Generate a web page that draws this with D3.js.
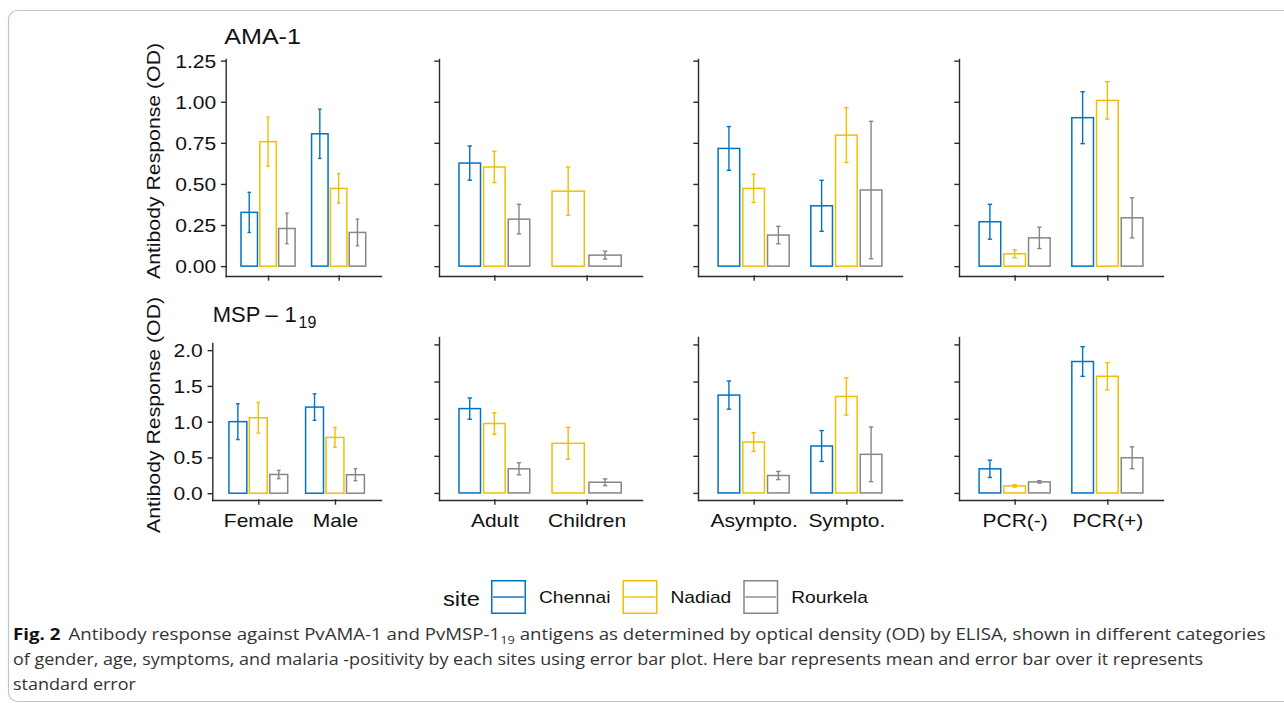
<!DOCTYPE html>
<html>
<head>
<meta charset="utf-8">
<script src="https://cdn.jsdelivr.net/npm/d3@7"></script>
<style>
  body { margin: 0; background: #fff; }
  svg { display: block; font-family: "Liberation Sans", Arial, sans-serif; }
</style>
</head>
<body>
<svg id="chart" width="1284" height="703"></svg>
<script>
'use strict';

var sites = ['Chennai', 'Nadiad', 'Rourkela']
,   siteColors = ['#0073C2', '#EFC000', '#868686']
,   panelCategories = [['Female', 'Male'], ['Adult', 'Children'], ['Asympto.', 'Sympto.'], ['PCR(-)', 'PCR(+)']]
,   amaTicks = [0, 0.25, 0.5, 0.75, 1, 1.25]
,   mspTicks = [0, 0.5, 1, 1.5, 2]

// [panel][category][site] : Chennai, Nadiad, Rourkela (null = no data)
var amaMean = [
  [[0.327, 0.757, 0.229], [0.805, 0.473, 0.205]],
  [[0.627, 0.603, 0.286], [null, 0.456, 0.067]],
  [[0.716, 0.473, 0.189], [0.367, 0.797, 0.463]],
  [[0.270, 0.075, 0.172], [0.903, 1.008, 0.294]]
]
var amaSE = [
  [[0.122, 0.150, 0.093], [0.150, 0.090, 0.081]],
  [[0.104, 0.095, 0.090], [null, 0.147, 0.024]],
  [[0.133, 0.086, 0.053], [0.155, 0.167, 0.418]],
  [[0.106, 0.024, 0.065], [0.158, 0.114, 0.122]]
]
var mspMean = [
  [[1.000, 1.055, 0.262], [1.204, 0.780, 0.258]],
  [[1.136, 0.935, 0.325], [null, 0.668, 0.144]],
  [[1.318, 0.686, 0.235], [0.632, 1.300, 0.520]],
  [[0.325, 0.095, 0.149], [1.770, 1.571, 0.474]]
]
var mspSE = [
  [[0.250, 0.214, 0.058], [0.185, 0.139, 0.084]],
  [[0.143, 0.145, 0.081], [null, 0.215, 0.045]],
  [[0.190, 0.127, 0.055], [0.208, 0.251, 0.368]],
  [[0.117, 0.016, 0.016], [0.200, 0.183, 0.147]]
]

var captionLines = [
  'of gender, age, symptoms, and malaria -positivity by each sites using error bar plot. Here bar represents mean and error bar over it represents',
  'standard error'
]

var STRETCH = 1.2   // axis fonts render wider than Arial in the original

var rows = [
  { mean: amaMean, se: amaSE, ticks: amaTicks, fmt: d3.format('.2f'), domain: [-0.06, 1.26],
    titleY: 161, labels: false,
    panels: [
      { x0: 225.7, x1: 381, y0: 276, y1: 59 },
      { x0: 439, x1: 642, y0: 276, y1: 59 },
      { x0: 698, x1: 902, y0: 276, y1: 59 },
      { x0: 959, x1: 1163, y0: 276, y1: 59 }
    ] },
  { mean: mspMean, se: mspSE, ticks: mspTicks, fmt: d3.format('.1f'), domain: [-0.095, 2.1],
    titleY: 415, labels: true,
    panels: [
      { x0: 212.3, x1: 381, y0: 500, y1: 343 },
      { x0: 439, x1: 642, y0: 500, y1: 337 },
      { x0: 698, x1: 902, y0: 500, y1: 337 },
      { x0: 959, x1: 1163, y0: 500, y1: 337 }
    ] }
]

var svg = d3.select('#chart')

// figure frame
svg.append('rect')
  .attr('x', 8.5).attr('y', 10.5)
  .attr('width', 1300).attr('height', 691)
  .attr('rx', 9)
  .attr('fill', 'none')
  .attr('stroke', '#c4c4c4')
  .attr('stroke-width', 1.2)

rows.forEach(function(row, ri) {
  row.panels.forEach(function(p, pi) {
    var cats = panelCategories[pi]
    ,   x = d3.scalePoint().domain(cats).range([p.x0, p.x1]).padding(0.6)
    ,   y = d3.scaleLinear().domain(row.domain).range([p.y0, p.y1])
    ,   step = x.step()
    ,   g = svg.append('g').attr('class', 'panel')
    ,   bars = []

    cats.forEach(function(cat, ci) {
      var present = sites.map((s, si) => si).filter((si) => row.mean[pi][ci][si] != null)
      ,   slot = 0.8 * step / present.length
      present.forEach(function(si, k) {
        bars.push({
          site: si
        , mean: row.mean[pi][ci][si]
        , se: row.se[pi][ci][si]
        , cx: x(cat) - 0.4 * step + slot * (k + 0.5)
        , w: slot * 0.875
        })
      })
    })

    g.selectAll('rect.bar').data(bars).enter().append('rect')
      .attr('class', 'bar')
      .attr('x', (d) => d.cx - d.w / 2)
      .attr('y', (d) => y(d.mean))
      .attr('width', (d) => d.w)
      .attr('height', (d) => y(0) - y(d.mean))
      .attr('fill', '#fff')
      .attr('stroke', (d) => siteColors[d.site])
      .attr('stroke-width', 1.5)

    var cap = 0.024 * step
    ,   eb = g.selectAll('g.err').data(bars).enter().append('g')
      .attr('class', 'err')
      .attr('stroke', (d) => siteColors[d.site])
      .attr('stroke-width', 1.4)

    eb.append('line')
      .attr('x1', (d) => d.cx).attr('x2', (d) => d.cx)
      .attr('y1', (d) => y(d.mean - d.se)).attr('y2', (d) => y(d.mean + d.se))
    eb.append('line')
      .attr('x1', (d) => d.cx - cap).attr('x2', (d) => d.cx + cap)
      .attr('y1', (d) => y(d.mean + d.se)).attr('y2', (d) => y(d.mean + d.se))
    eb.append('line')
      .attr('x1', (d) => d.cx - cap).attr('x2', (d) => d.cx + cap)
      .attr('y1', (d) => y(d.mean - d.se)).attr('y2', (d) => y(d.mean - d.se))

    // axes
    var yAxis = g.append('g')
      .attr('transform', 'translate(' + p.x0 + ',0)')
      .call(d3.axisLeft(y).tickValues(row.ticks).tickSize(4).tickSizeOuter(0)
        .tickPadding(5.5).tickFormat(pi === 0 ? row.fmt : () => ''))

    var xAxis = g.append('g')
      .attr('transform', 'translate(0,' + p.y0 + ')')
      .call(d3.axisBottom(x).tickSize(4).tickSizeOuter(0).tickPadding(11)
        .tickFormat(row.labels ? null : () => ''))

    ;[yAxis, xAxis].forEach(function(ax) {
      ax.attr('font-family', null).attr('font-size', null)
      ax.selectAll('path.domain, .tick line')
        .attr('stroke', '#2b2b2b')
        .attr('stroke-width', 1.4)
        .attr('stroke-linecap', 'square')
      ax.selectAll('.tick text').attr('fill', '#111')
    })

    yAxis.selectAll('.tick text')
      .attr('font-size', 18)
      .attr('transform', 'translate(-9.5,0) scale(1.17,1)')
      .attr('x', 0)
      .attr('dy', '0.36em')

    xAxis.selectAll('.tick text')
      .attr('font-size', 17.5)
      .attr('transform', 'translate(0,' + 15 + ') scale(' + STRETCH + ',1)')
      .attr('y', 0)
      .attr('dy', '0.71em')
  })

  // y axis title
  svg.append('text')
    .attr('transform', 'translate(159.5,' + row.titleY + ') rotate(-90) scale(' + STRETCH + ',1)')
    .attr('text-anchor', 'middle')
    .attr('font-size', 17.7)
    .attr('fill', '#111')
    .text('Antibody Response (OD)')
})

// row titles
svg.append('text')
  .attr('transform', 'translate(224.3,44.3) scale(1.14,1)')
  .attr('font-size', 22)
  .attr('fill', '#111')
  .text('AMA-1')

var msp = svg.append('text')
  .attr('y', 322.3)
  .attr('font-size', 22)
  .attr('fill', '#111')
msp.append('tspan').attr('x', 212.7).text('MSP')
msp.append('tspan').attr('x', 265.5).text('\u2013')
msp.append('tspan').attr('x', 284.5).text('1')
msp.append('tspan').attr('x', 298.5).attr('y', 327.5).attr('font-size', 16).text('19')

// legend
var legend = svg.append('g').attr('class', 'legend')
legend.append('text')
  .attr('transform', 'translate(443,605.5) scale(1.13,1)')
  .attr('font-size', 21)
  .attr('fill', '#111')
  .text('site')

var lx = 491
sites.forEach(function(s, si) {
  var key = legend.append('g').attr('transform', 'translate(' + lx + ',580)')
  key.append('rect')
    .attr('x', 0.75).attr('y', 0.75)
    .attr('width', 33.5).attr('height', 32.5)
    .attr('fill', '#fff')
    .attr('stroke', siteColors[si])
    .attr('stroke-width', 1.5)
  key.append('line')
    .attr('x1', 2).attr('x2', 33)
    .attr('y1', 17).attr('y2', 17)
    .attr('stroke', siteColors[si])
    .attr('stroke-width', 1.4)
  var t = legend.append('text')
    .attr('transform', 'translate(' + (lx + 48) + ',602.8) scale(' + STRETCH + ',1)')
    .attr('font-size', 16)
    .attr('fill', '#111')
    .text(s)
  lx += 48 + t.node().getComputedTextLength() * STRETCH + 12
})

// caption
var cap1 = svg.append('text')
  .attr('font-family', '"Open Sans", "Noto Sans", sans-serif')
  .attr('font-size', 16)
  .attr('fill', '#333')
cap1.append('tspan').attr('font-weight', 'bold').attr('fill', '#111').text('Fig. 2')
cap1.append('tspan').attr('dx', 7).text('Antibody response against PvAMA-1 and PvMSP-1')
cap1.append('tspan').attr('font-size', 11).attr('dy', 4).text('19')
cap1.append('tspan').attr('dy', -4).text(' antigens as determined by optical density (OD) by ELISA, shown in different categories')

var capRest = captionLines.map(function(line) {
  return svg.append('text')
    .attr('font-family', '"Open Sans", "Noto Sans", sans-serif')
    .attr('font-size', 16)
    .attr('fill', '#333')
    .text(line)
})

function fitX(sel, x0, y0, width) {
  var w = sel.node().getBBox().width
  ,   s = width / w
  sel.attr('transform', 'translate(' + x0 + ',' + y0 + ') scale(' + s + ',1)')
  return s
}

fitX(cap1, 13, 640, 1254)
var s2 = fitX(capRest[0], 13, 665, 1191)
capRest[1].attr('transform', 'translate(13,689.5) scale(' + s2 + ',1)')
</script>
</body>
</html>
